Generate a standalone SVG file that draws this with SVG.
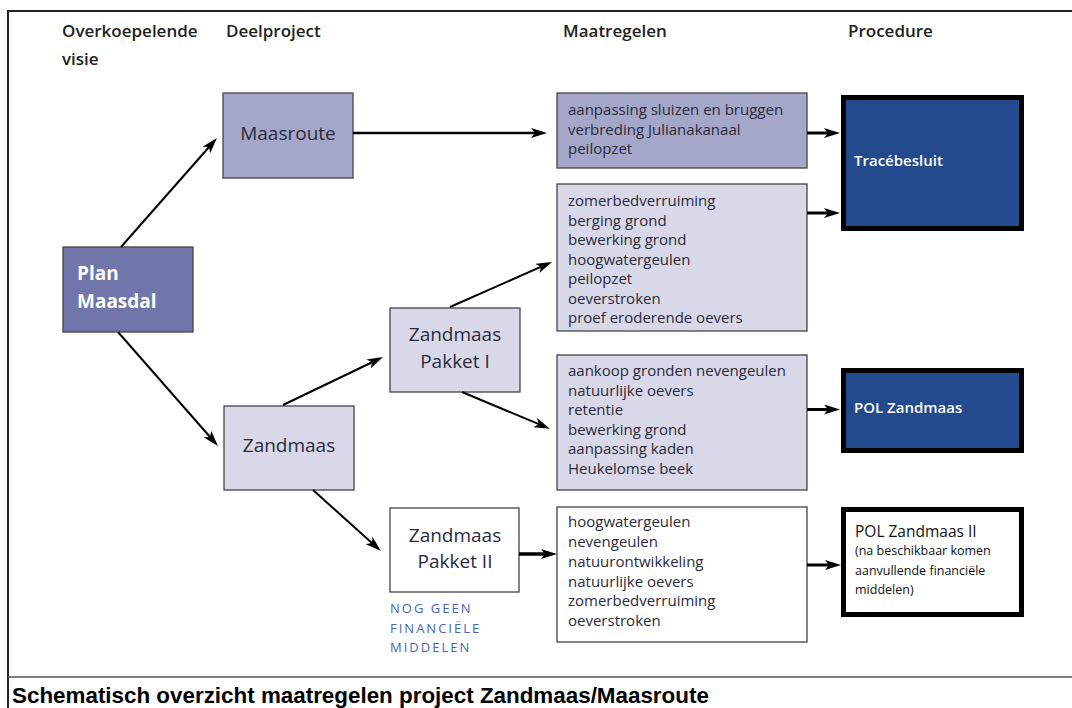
<svg xmlns="http://www.w3.org/2000/svg" width="1072" height="708" viewBox="0 0 1072 708">
  <defs>
    <marker id="ah" viewBox="0 0 16 10" refX="8" refY="5" markerWidth="16" markerHeight="10" markerUnits="userSpaceOnUse" orient="auto">
      <path d="M0,0 L16,5 L0,10 L4,5 z" fill="#000"/>
    </marker>
  </defs>
  <style>
    .hdr { font-family: "Open Sans", "Liberation Sans", sans-serif; font-size: 17px; font-weight: 600; fill: #222; }
    .box { stroke: #444; stroke-width: 1.3; }
    .mid { fill: #a5a7c9; }
    .lite { fill: #d8d8e8; }
    .plan { fill: #7075aa; }
    .proc { fill: #234a8c; stroke: #000; stroke-width: 5; }
    .procw { fill: #fff; stroke: #000; stroke-width: 5; }
    .lbl { font-family: "Open Sans", "Liberation Sans", sans-serif; font-size: 19px; fill: #2b2b3b; text-anchor: middle; }
    .lst { font-family: "Open Sans", "Liberation Sans", sans-serif; font-size: 15px; fill: #2b2b3b; }
    .wht { font-family: "Open Sans", "Liberation Sans", sans-serif; font-size: 15px; font-weight: 600; fill: #fff; }
    .note { font-family: "Open Sans", "Liberation Sans", sans-serif; font-size: 13px; fill: #4a64b0; letter-spacing: 2px; }
    .sm { font-family: "Open Sans", "Liberation Sans", sans-serif; font-size: 12.5px; fill: #111; }
    .cap { font-family: "Liberation Sans", Arial, sans-serif; font-size: 22.4px; font-weight: bold; fill: #000; }
    .con { stroke: #000; fill: none; marker-end: url(#ah); }
  </style>

  <rect width="1072" height="708" fill="#fff"/>
  <!-- frame -->
  <g id="frame">
    <line x1="8" y1="11" x2="1072" y2="11" stroke="#222" stroke-width="2"/>
    <line x1="8" y1="10" x2="8" y2="708" stroke="#222" stroke-width="2"/>
    <line x1="8" y1="677" x2="1072" y2="677" stroke="#555" stroke-width="1.5"/>
  </g>

  <!-- headers -->
  <g id="headers">
    <text class="hdr" x="62" y="37">Overkoepelende</text>
    <text class="hdr" x="62" y="65">visie</text>
    <text class="hdr" x="226" y="37">Deelproject</text>
    <text class="hdr" x="563" y="37">Maatregelen</text>
    <text class="hdr" x="848" y="37">Procedure</text>
  </g>

  <g id="plan-maasdal">
    <rect class="box plan" x="63" y="247" width="130" height="85"/>
    <text class="wht" x="77" y="280" style="font-size:19px;font-weight:700">Plan</text>
    <text class="wht" x="77" y="308" style="font-size:19px;font-weight:700">Maasdal</text>
  </g>

  <g id="maasroute">
    <rect class="box mid" x="223" y="93" width="130" height="85"/>
    <text class="lbl" x="288" y="140">Maasroute</text>
  </g>

  <g id="zandmaas">
    <rect class="box lite" x="224" y="406" width="130" height="84"/>
    <text class="lbl" x="289" y="452">Zandmaas</text>
  </g>

  <g id="pakket1">
    <rect class="box lite" x="390" y="308" width="130" height="84"/>
    <text class="lbl" x="455" y="341">Zandmaas</text>
    <text class="lbl" x="455" y="368">Pakket I</text>
  </g>

  <g id="pakket2">
    <rect class="box" fill="#fff" x="390" y="508" width="129" height="84"/>
    <text class="lbl" x="455" y="542">Zandmaas</text>
    <text class="lbl" x="455" y="568">Pakket II</text>
  </g>

  <g id="note-financien">
    <text class="note" x="390" y="613">NOG GEEN</text>
    <text class="note" x="390" y="633">FINANCIËLE</text>
    <text class="note" x="390" y="652">MIDDELEN</text>
  </g>

  <g id="maatregelen-maasroute">
    <rect class="box mid" x="557" y="93" width="250" height="75"/>
    <text class="lst" x="568" y="115">aanpassing sluizen en bruggen</text>
    <text class="lst" x="568" y="134.5">verbreding Julianakanaal</text>
    <text class="lst" x="568" y="154">peilopzet</text>
  </g>

  <g id="maatregelen-pakket1a">
    <rect class="box lite" x="557" y="184" width="250" height="147"/>
    <text class="lst" x="568" y="206">zomerbedverruiming</text>
    <text class="lst" x="568" y="225.5">berging grond</text>
    <text class="lst" x="568" y="245">bewerking grond</text>
    <text class="lst" x="568" y="264.5">hoogwatergeulen</text>
    <text class="lst" x="568" y="284">peilopzet</text>
    <text class="lst" x="568" y="303.5">oeverstroken</text>
    <text class="lst" x="568" y="323">proef eroderende oevers</text>
  </g>

  <g id="maatregelen-pakket1b">
    <rect class="box lite" x="557" y="355" width="250" height="135"/>
    <text class="lst" x="568" y="376">aankoop gronden nevengeulen</text>
    <text class="lst" x="568" y="395.5">natuurlijke oevers</text>
    <text class="lst" x="568" y="415">retentie</text>
    <text class="lst" x="568" y="434.5">bewerking grond</text>
    <text class="lst" x="568" y="454">aanpassing kaden</text>
    <text class="lst" x="568" y="473.5">Heukelomse beek</text>
  </g>

  <g id="maatregelen-pakket2">
    <rect class="box" fill="#fff" x="557" y="507" width="250" height="135"/>
    <text class="lst" x="568" y="527">hoogwatergeulen</text>
    <text class="lst" x="568" y="547">nevengeulen</text>
    <text class="lst" x="568" y="567">natuurontwikkeling</text>
    <text class="lst" x="568" y="586.5">natuurlijke oevers</text>
    <text class="lst" x="568" y="606">zomerbedverruiming</text>
    <text class="lst" x="568" y="626">oeverstroken</text>
  </g>

  <g id="tracebesluit">
    <rect class="proc" x="843.5" y="97.5" width="178" height="131"/>
    <text class="wht" x="854" y="166">Tracébesluit</text>
  </g>

  <g id="pol-zandmaas">
    <rect class="proc" x="843.5" y="370.5" width="178" height="80"/>
    <text class="wht" x="854" y="413">POL Zandmaas</text>
  </g>

  <g id="pol-zandmaas-2">
    <rect class="procw" x="843.5" y="509.5" width="178" height="105"/>
    <text class="lst" x="855" y="537" style="fill:#111;font-size:15.5px">POL Zandmaas II</text>
    <text class="sm" x="855" y="555">(na beschikbaar komen</text>
    <text class="sm" x="855" y="575">aanvullende financiële</text>
    <text class="sm" x="855" y="594">middelen)</text>
  </g>

  <g id="connectors">
    <line class="con" stroke-width="2" x1="121" y1="247" x2="211.7" y2="144"/>
    <line class="con" stroke-width="2" x1="118" y1="332" x2="212.7" y2="440"/>
    <line class="con" stroke-width="2" x1="283" y1="405" x2="375.8" y2="360.5"/>
    <line class="con" stroke-width="2" x1="450" y1="307" x2="544.7" y2="265.2"/>
    <line class="con" stroke-width="2" x1="462" y1="392" x2="542.5" y2="425.7"/>
    <line class="con" stroke-width="2" x1="313" y1="490" x2="375" y2="545.7"/>
    <line class="con" stroke-width="2.5" x1="353" y1="133" x2="539" y2="133"/>
    <line class="con" stroke-width="3" x1="807" y1="133" x2="832" y2="133"/>
    <line class="con" stroke-width="3" x1="807" y1="213" x2="832" y2="213"/>
    <line class="con" stroke-width="3" x1="807" y1="409.5" x2="832" y2="409.5"/>
    <line class="con" stroke-width="3.5" x1="519" y1="554" x2="549" y2="554"/>
    <line class="con" stroke-width="3" x1="807" y1="565" x2="833" y2="565"/>
  </g>

  <g id="caption">
    <text class="cap" x="12" y="703">Schematisch overzicht maatregelen project Zandmaas/Maasroute</text>
  </g>
</svg>
